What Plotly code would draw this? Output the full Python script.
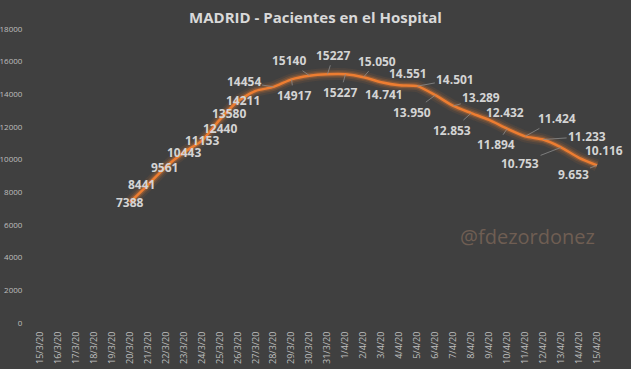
import plotly.graph_objects as go

dates = ["15/3/20", "16/3/20", "17/3/20", "18/3/20", "19/3/20", "20/3/20", "21/3/20", "22/3/20",
         "23/3/20", "24/3/20", "25/3/20", "26/3/20", "27/3/20", "28/3/20", "29/3/20", "30/3/20",
         "31/3/20", "1/4/20", "2/4/20", "3/4/20", "4/4/20", "5/4/20", "6/4/20", "7/4/20",
         "8/4/20", "9/4/20", "10/4/20", "11/4/20", "12/4/20", "13/4/20", "14/4/20", "15/4/20"]

series_dates = dates[5:]
patients = [7388, 8441, 9561, 10443, 11153, 12440, 13580, 14211, 14454, 14917, 15140, 15227,
            15227, 15050, 14741, 14551, 14501, 13950, 13289, 12853, 12432, 11894, 11424, 11233,
            10753, 10116, 9653]
label_texts = ["7388", "8441", "9561", "10443", "11153", "12440", "13580", "14211", "14454",
               "14917", "15140", "15227", "15227", "15.050", "14.741", "14.551", "14.501",
               "13.950", "13.289", "12.853", "12.432", "11.894", "11.424", "11.233", "10.753",
               "10.116", "9.653"]

y_ticks = [0, 2000, 4000, 6000, 8000, 10000, 12000, 14000, 16000, 18000]

# label offsets in pixels (style) and whether a leader line is drawn
label_dx = [0, -6, -1, 0, 0, 0, -9, -13, -30, 2, -21, 6, -5, 14, 3, 9, 38, -23, 28, -19, 16,
            -11, 32, 44, -41, 25, -24]
label_dy = [0, -1, 1, 0, 0, 9, 12, 10, -5, 16, -15, -19, 18, -16, 12, -12, -7, 17, -8, 17, -7,
            16, -18, -3, 16, -7, 9]
leader = [False, False, False, False, False, False, False, False, True, True, True, True, True,
          True, False, False, True, True, True, True, False, True, True, True, True, False, True]

BG = "#404040"
ORANGE = "#ED7D31"

fig = go.Figure()

for w, a in [(12, 0.08), (8, 0.15), (5, 0.28)]:
    fig.add_trace(go.Scatter(x=series_dates, y=patients, mode="lines",
                             line=dict(color=f"rgba(237,125,49,{a})", width=w, shape="spline",
                                       smoothing=0.6),
                             hoverinfo="skip", showlegend=False))
fig.add_trace(go.Scatter(x=series_dates, y=patients, mode="lines",
                         line=dict(color=ORANGE, width=2.5, shape="spline", smoothing=0.6),
                         showlegend=False))

for d, v, t, dx, dy, ld in zip(series_dates, patients, label_texts, label_dx, label_dy, leader):
    fig.add_annotation(x=d, y=v, text=t, showarrow=True, ax=dx, ay=dy,
                       arrowhead=0, arrowwidth=0.8, standoff=0,
                       arrowcolor="#8c8c8c" if ld else "rgba(0,0,0,0)",
                       font=dict(family="Open Sans", size=12, color="#d4d4d4", weight="bold"))

fig.add_annotation(x=1, xref="paper", xanchor="right", y=5300, yref="y",
                   text="@fdezordonez", showarrow=False, xshift=-9,
                   font=dict(family="Open Sans", size=20, color="#6f5e53"))

fig.update_layout(
    width=631, height=369,
    paper_bgcolor=BG, plot_bgcolor=BG,
    margin=dict(l=31, r=25, t=29, b=46),
    title=dict(text="<b>MADRID - Pacientes en el Hospital</b>", x=0.5, xanchor="center",
               y=0.952, yanchor="middle",
               font=dict(family="Open Sans", size=15, color="#d9d9d9")),
    xaxis=dict(type="category", categoryorder="array", categoryarray=dates,
               range=[-0.5, len(dates) - 0.5], tickangle=-90, showgrid=False, zeroline=False,
               showline=False, ticks="outside", ticklen=4, tickcolor=BG, automargin=False,
               tickfont=dict(family="Open Sans", size=9, color="#bfbfbf")),
    yaxis=dict(range=[0, 18000], tickvals=y_ticks, tickformat="d", showgrid=False,
               zeroline=False, showline=False, ticks="outside", ticklen=6, tickcolor=BG,
               automargin=False,
               tickfont=dict(family="Open Sans", size=8, color="#bfbfbf")),
)

fig.write_html("out.html", config={"displayModeBar": False},
               post_script="document.body.style.margin='0';"
                           "document.body.style.background='#404040';")
